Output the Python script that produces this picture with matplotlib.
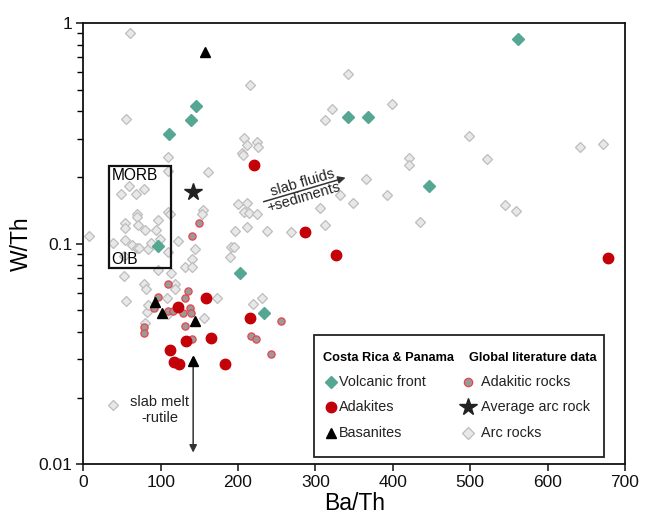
import numpy as np
import matplotlib
matplotlib.use('Agg')
import matplotlib.pyplot as plt
from matplotlib.patches import Rectangle

plt.rcParams['font.family'] = ['Liberation Sans', 'DejaVu Sans']

# ---------------- data (Ba/Th, W/Th) ----------------
vf_x = [562, 146, 139, 111, 342, 368, 447, 96, 202, 233]
vf_y = [0.852, 0.423, 0.364, 0.314, 0.375, 0.375, 0.183, 0.098, 0.0735, 0.0484]

adk_x = [221, 287, 327, 678, 159, 123, 215, 133, 165, 112, 117, 124, 183]
adk_y = [0.228, 0.113, 0.089, 0.0865, 0.0569, 0.0518, 0.0461, 0.0362, 0.0374,
         0.0329, 0.0290, 0.0284, 0.0284]

bas_x = [157, 93, 102, 144, 142]
bas_y = [0.741, 0.0546, 0.0487, 0.0448, 0.0295]

lit_adk_x = [150, 140, 109, 135, 131, 97, 91, 109, 116, 129, 138, 139, 132,
             140, 78, 78, 217, 223, 243, 256]
lit_adk_y = [0.1247, 0.1085, 0.0654, 0.0614, 0.0566, 0.0571, 0.0509, 0.0496,
             0.0495, 0.0487, 0.0511, 0.0486, 0.0423, 0.0370, 0.0419, 0.0393,
             0.0381, 0.0369, 0.0315, 0.0447]

avg_x = [142]
avg_y = [0.172]

arc_x = [60, 55, 215, 342, 322, 313, 208, 212, 224, 226, 205, 207, 110, 109,
         161, 365, 49, 59, 68, 79, 200, 211, 208, 214, 224, 306, 348, 332,
         69, 69, 54, 54, 71, 80, 97, 94, 109, 112, 155, 153, 8, 38, 54, 63,
         69, 72, 84, 88, 99, 122, 144, 196, 212, 238, 268, 313, 191, 195,
         110, 190, 141, 132, 140, 114, 97, 52, 52, 79, 81, 118, 118, 55, 108,
         173, 82, 84, 109, 156, 219, 231, 80, 39,
         399, 499, 421, 421, 522, 393, 435, 545, 559, 642, 672]
arc_y = [0.906, 0.369, 0.525, 0.589, 0.407, 0.365, 0.301, 0.281, 0.289, 0.276,
         0.257, 0.252, 0.247, 0.214, 0.211, 0.196, 0.168, 0.182, 0.168, 0.178,
         0.151, 0.153, 0.140, 0.138, 0.137, 0.146, 0.153, 0.167, 0.137, 0.132,
         0.124, 0.118, 0.122, 0.116, 0.128, 0.116, 0.140, 0.137, 0.143, 0.137,
         0.109, 0.1005, 0.104, 0.0985, 0.096, 0.0958, 0.0944, 0.1005, 0.1048,
         0.1033, 0.0947, 0.1147, 0.1196, 0.1147, 0.1128, 0.122, 0.097, 0.097,
         0.092, 0.0874, 0.0851, 0.0787, 0.0787, 0.074, 0.0761, 0.0717, 0.0881,
         0.0659, 0.0622, 0.0657, 0.0622, 0.0553, 0.0566, 0.0566, 0.0489,
         0.0529, 0.0481, 0.0461, 0.0531, 0.0566, 0.0437, 0.0185,
         0.431, 0.309, 0.244, 0.228, 0.242, 0.166, 0.126, 0.1495, 0.141,
         0.276, 0.284]

# MORB / OIB field
box_x = [33.6, 112.9]
box_y = [0.0779, 0.226]

# ---------------- styles ----------------
c_vf = '#55a693'
c_red = '#c40008'
c_star = '#222222'

fig = plt.figure(figsize=(6.48, 5.30), dpi=100)
ax = fig.add_axes([0.1285, 0.124, 0.836, 0.832])

ax.plot(arc_x, arc_y, 'D', ms=5.2, mfc='#e8e8e8', mec='#bdbdbd', mew=0.9,
        ls='none', zorder=2)
ax.add_patch(Rectangle((box_x[0], box_y[0]), box_x[1] - box_x[0],
                       box_y[1] - box_y[0], fill=False, ec='#111111',
                       lw=1.6, zorder=3))
ax.text(box_x[0] + 3, 0.205, 'MORB', fontsize=11.2, va='center', ha='left',
        zorder=4)
ax.text(box_x[0] + 3, 0.0845, 'OIB', fontsize=11.2, va='center', ha='left',
        zorder=4)

# arrows
ax.annotate('', xy=(339, 0.1995), xytext=(233, 0.1552),
            arrowprops=dict(arrowstyle='-|>', color='#333333', lw=1.1,
                            mutation_scale=11, shrinkA=0, shrinkB=0))
ax.text(283, 0.190, 'slab fluids', fontsize=10.6, rotation=16.5,
        ha='center', va='center', color='#222222')
ax.text(285, 0.1625, '+sediments', fontsize=10.6, rotation=16.5,
        ha='center', va='center', color='#222222')

ax.annotate('', xy=(142, 0.0113), xytext=(142, 0.031),
            arrowprops=dict(arrowstyle='<|-|>', color='#333333', lw=1.1,
                            mutation_scale=11, shrinkA=0, shrinkB=0))
ax.text(99, 0.0176, 'slab melt\n-rutile', fontsize=10.5, ha='center',
        va='center', linespacing=1.15, color='#222222')

ax.plot(lit_adk_x, lit_adk_y, 'o', ms=5.2, mfc='#9a9a9a', mec='#e8444a',
        mew=0.9, ls='none', zorder=5)
ax.plot(vf_x, vf_y, 'D', ms=6, mfc=c_vf, mec=c_vf, ls='none', zorder=6)
ax.plot(adk_x, adk_y, 'o', ms=7.5, mfc=c_red, mec=c_red, ls='none', zorder=6)
ax.plot(bas_x, bas_y, '^', ms=7.5, mfc='black', mec='black', ls='none',
        zorder=7)
ax.plot(avg_x, avg_y, '*', ms=13, mfc=c_star, mec=c_star, ls='none',
        zorder=7)

# ---------------- legend (drawn by hand) ----------------
tr = ax.transAxes
ax.add_patch(Rectangle((0.426, 0.017), 0.536, 0.276, transform=tr,
                       fill=True, fc='white', ec='#222222', lw=1.3,
                       zorder=8))
ax.text(0.563, 0.240, 'Costa Rica & Panama', transform=tr, fontsize=9.2,
        fontweight='bold', ha='center', va='center', zorder=9)
ax.text(0.829, 0.240, 'Global literature data', transform=tr, fontsize=9.2,
        fontweight='bold', ha='center', va='center', zorder=9)
rows = [0.187, 0.129, 0.070]
left_lab = ['Volcanic front', 'Adakites', 'Basanites']
left_sty = [dict(marker='D', ms=6, mfc=c_vf, mec=c_vf),
            dict(marker='o', ms=7.5, mfc=c_red, mec=c_red),
            dict(marker='^', ms=7, mfc='black', mec='black')]
right_lab = ['Adakitic rocks', 'Average arc rock', 'Arc rocks']
right_sty = [dict(marker='o', ms=6, mfc='#9a9a9a', mec='#e8444a', mew=0.9),
             dict(marker='*', ms=13, mfc=c_star, mec=c_star),
             dict(marker='D', ms=6.5, mfc='#e8e8e8', mec='#bdbdbd', mew=0.9)]
for yy, lab, st in zip(rows, left_lab, left_sty):
    ax.plot([0.457], [yy], transform=tr, ls='none', zorder=9, clip_on=False,
            **st)
    ax.text(0.472, yy, lab, transform=tr, fontsize=10.4, va='center',
            ha='left', color='#222222', zorder=9)
for yy, lab, st in zip(rows, right_lab, right_sty):
    ax.plot([0.710], [yy], transform=tr, ls='none', zorder=9, clip_on=False,
            **st)
    ax.text(0.735, yy, lab, transform=tr, fontsize=10.4, va='center',
            ha='left', color='#222222', zorder=9)

# ---------------- axes ----------------
ax.set_yscale('log')
ax.set_xlim(0, 700)
ax.set_ylim(0.01, 1)
ax.set_xticks(np.arange(0, 701, 100))
ax.set_yticks([0.01, 0.1, 1])
ax.set_yticklabels(['0.01', '0.1', '1'])
ax.tick_params(axis='both', which='major', direction='out', length=5,
               width=1.1, labelsize=12.5, colors='#111111', pad=3)
ax.tick_params(axis='y', which='minor', direction='out', length=4, width=1)
ax.tick_params(axis='x', which='minor', bottom=False)
for sp in ax.spines.values():
    sp.set_linewidth(1.3)
    sp.set_color('#111111')
ax.set_xlabel('Ba/Th', fontsize=16.5, labelpad=1)
ax.set_ylabel('W/Th', fontsize=16.5, labelpad=4)

fig.savefig('out.png', dpi=100)
